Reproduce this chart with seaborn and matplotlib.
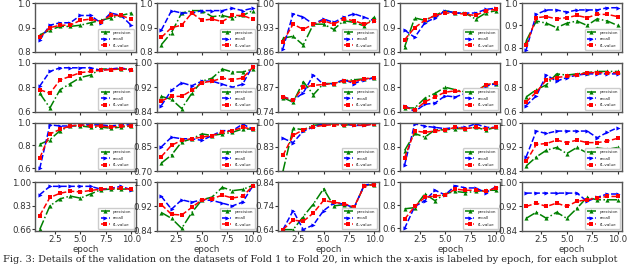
import matplotlib
matplotlib.use('Agg')
import matplotlib.pyplot as plt
import seaborn as sns

epochs = [1, 2, 3, 4, 5, 6, 7, 8, 9, 10]

# one list per panel, row by row (4 rows x 5 columns)
precision = [
    [0.87, 0.89, 0.905, 0.905, 0.91, 0.92, 0.93, 0.94, 0.95, 0.96],
    [0.83, 0.88, 0.96, 0.97, 0.97, 0.945, 0.95, 0.94, 0.95, 0.97],
    [0.90, 0.905, 0.88, 0.94, 0.94, 0.925, 0.95, 0.945, 0.935, 0.96],
    [0.82, 0.94, 0.93, 0.95, 0.97, 0.96, 0.96, 0.935, 0.96, 0.97],
    [0.83, 0.92, 0.91, 0.89, 0.91, 0.92, 0.90, 0.93, 0.92, 0.90],
    [0.75, 0.63, 0.78, 0.83, 0.88, 0.90, 0.95, 0.95, 0.95, 0.95],
    [0.89, 0.88, 0.85, 0.90, 0.94, 0.95, 0.98, 0.97, 0.97, 0.98],
    [0.815, 0.79, 0.90, 0.83, 0.89, 0.89, 0.905, 0.91, 0.915, 0.92],
    [0.63, 0.63, 0.71, 0.75, 0.80, 0.78, 0.76, 0.76, 0.82, 0.83],
    [0.72, 0.78, 0.82, 0.91, 0.90, 0.91, 0.92, 0.93, 0.93, 0.93],
    [0.81, 0.85, 0.93, 0.97, 0.97, 0.96, 0.96, 0.95, 0.96, 0.97],
    [0.75, 0.80, 0.88, 0.90, 0.93, 0.92, 0.93, 0.94, 0.96, 0.96],
    [0.66, 0.96, 0.95, 0.98, 0.99, 0.99, 0.98, 0.99, 0.99, 0.99],
    [0.77, 0.91, 0.88, 0.94, 0.94, 0.95, 0.95, 0.96, 0.94, 0.96],
    [0.857, 0.887, 0.909, 0.918, 0.898, 0.918, 0.90, 0.917, 0.912, 0.918],
    [0.66, 0.83, 0.88, 0.90, 0.885, 0.915, 0.945, 0.95, 0.95, 0.95],
    [0.90, 0.881, 0.848, 0.90, 0.942, 0.951, 0.983, 0.972, 0.976, 0.989],
    [0.64, 0.64, 0.695, 0.748, 0.812, 0.74, 0.745, 0.73, 0.827, 0.83],
    [0.77, 0.78, 0.90, 0.84, 0.90, 0.92, 0.91, 0.92, 0.93, 0.93],
    [0.881, 0.901, 0.881, 0.901, 0.881, 0.914, 0.95, 0.942, 0.942, 0.942],
]
recall = [
    [0.85, 0.91, 0.92, 0.92, 0.95, 0.95, 0.92, 0.96, 0.95, 0.91],
    [0.89, 0.97, 0.96, 0.96, 0.97, 0.97, 0.97, 0.98, 0.97, 0.98],
    [0.87, 0.97, 0.96, 0.94, 0.955, 0.945, 0.96, 0.97, 0.96, 0.95],
    [0.89, 0.86, 0.92, 0.94, 0.97, 0.96, 0.96, 0.96, 0.975, 0.98],
    [0.79, 0.95, 0.97, 0.97, 0.96, 0.97, 0.97, 0.97, 0.98, 0.98],
    [0.81, 0.93, 0.96, 0.96, 0.96, 0.96, 0.94, 0.95, 0.96, 0.94],
    [0.86, 0.91, 0.935, 0.925, 0.94, 0.94, 0.93, 0.92, 0.93, 0.99],
    [0.82, 0.80, 0.84, 0.935, 0.885, 0.89, 0.91, 0.89, 0.91, 0.92],
    [0.65, 0.60, 0.66, 0.67, 0.73, 0.72, 0.75, 0.75, 0.81, 0.83],
    [0.65, 0.73, 0.90, 0.85, 0.88, 0.90, 0.91, 0.91, 0.91, 0.91],
    [0.60, 0.98, 0.97, 0.97, 0.98, 0.98, 0.98, 0.97, 0.98, 0.98],
    [0.85, 0.91, 0.90, 0.90, 0.89, 0.92, 0.95, 0.95, 0.99, 0.96],
    [0.89, 0.86, 0.94, 0.97, 0.99, 0.99, 0.99, 0.98, 0.98, 0.99],
    [0.65, 0.99, 0.97, 0.96, 0.95, 0.96, 0.96, 0.99, 0.96, 0.96],
    [0.887, 0.972, 0.964, 0.972, 0.972, 0.972, 0.972, 0.95, 0.968, 0.983],
    [0.91, 0.97, 0.97, 0.97, 0.97, 0.97, 0.95, 0.955, 0.97, 0.945],
    [0.953, 0.911, 0.942, 0.934, 0.942, 0.94, 0.931, 0.922, 0.934, 0.987],
    [0.64, 0.72, 0.64, 0.66, 0.72, 0.752, 0.748, 0.732, 0.827, 0.834],
    [0.60, 0.79, 0.84, 0.93, 0.89, 0.97, 0.95, 0.95, 0.91, 0.96],
    [0.964, 0.964, 0.964, 0.964, 0.964, 0.964, 0.937, 0.95, 0.961, 0.961],
]
f1_value = [
    [0.86, 0.90, 0.91, 0.91, 0.93, 0.935, 0.925, 0.95, 0.95, 0.935],
    [0.86, 0.90, 0.91, 0.96, 0.93, 0.935, 0.925, 0.95, 0.95, 0.935],
    [0.89, 0.94, 0.925, 0.94, 0.95, 0.94, 0.955, 0.95, 0.94, 0.95],
    [0.85, 0.90, 0.93, 0.95, 0.96, 0.96, 0.955, 0.95, 0.97, 0.975],
    [0.81, 0.935, 0.94, 0.93, 0.935, 0.945, 0.935, 0.95, 0.95, 0.94],
    [0.78, 0.75, 0.86, 0.89, 0.92, 0.93, 0.94, 0.945, 0.95, 0.945],
    [0.875, 0.89, 0.89, 0.91, 0.935, 0.94, 0.95, 0.945, 0.95, 0.985],
    [0.82, 0.80, 0.87, 0.88, 0.885, 0.89, 0.905, 0.90, 0.915, 0.92],
    [0.64, 0.61, 0.68, 0.72, 0.76, 0.77, 0.76, 0.76, 0.82, 0.835],
    [0.68, 0.76, 0.86, 0.88, 0.89, 0.90, 0.92, 0.92, 0.92, 0.92],
    [0.69, 0.90, 0.94, 0.97, 0.98, 0.97, 0.97, 0.96, 0.97, 0.97],
    [0.79, 0.86, 0.89, 0.90, 0.91, 0.92, 0.94, 0.95, 0.97, 0.96],
    [0.77, 0.91, 0.95, 0.97, 0.98, 0.985, 0.985, 0.985, 0.98, 0.99],
    [0.71, 0.93, 0.92, 0.93, 0.94, 0.96, 0.95, 0.96, 0.95, 0.96],
    [0.872, 0.928, 0.931, 0.942, 0.934, 0.942, 0.934, 0.934, 0.939, 0.948],
    [0.76, 0.89, 0.92, 0.935, 0.93, 0.94, 0.95, 0.955, 0.955, 0.95],
    [0.926, 0.894, 0.892, 0.917, 0.942, 0.946, 0.957, 0.948, 0.953, 0.987],
    [0.64, 0.68, 0.675, 0.71, 0.763, 0.755, 0.75, 0.735, 0.823, 0.83],
    [0.68, 0.79, 0.87, 0.88, 0.89, 0.94, 0.93, 0.93, 0.92, 0.95],
    [0.92, 0.931, 0.92, 0.931, 0.92, 0.937, 0.942, 0.948, 0.953, 0.953],
]

# y tick values per panel (low, mid, high)
yticks = [
    [0.8, 0.9, 1.0], [0.8, 0.9, 1.0], [0.86, 0.93, 1.00], [0.8, 0.9, 1.0], [0.8, 0.9, 1.0],
    [0.6, 0.8, 1.0], [0.84, 0.92, 1.00], [0.74, 0.87, 1.00], [0.6, 0.8, 1.0], [0.6, 0.8, 1.0],
    [0.6, 0.8, 1.0], [0.70, 0.85, 1.00], [0.66, 0.83, 1.00], [0.6, 0.8, 1.0], [0.84, 0.92, 1.00],
    [0.66, 0.83, 1.00], [0.84, 0.92, 1.00], [0.64, 0.74, 0.84], [0.6, 0.8, 1.0], [0.84, 0.92, 1.00],
]
ytick_labels = [
    ['0.8', '0.9', '1.0'], ['0.8', '0.9', '1.0'], ['0.86', '0.93', '1.00'], ['0.8', '0.9', '1.0'], ['0.8', '0.9', '1.0'],
    ['0.6', '0.8', '1.0'], ['0.84', '0.92', '1.00'], ['0.74', '0.87', '1.00'], ['0.6', '0.8', '1.0'], ['0.6', '0.8', '1.0'],
    ['0.6', '0.8', '1.0'], ['0.70', '0.85', '1.00'], ['0.66', '0.83', '1.00'], ['0.6', '0.8', '1.0'], ['0.84', '0.92', '1.00'],
    ['0.66', '0.83', '1.00'], ['0.84', '0.92', '1.00'], ['0.64', '0.74', '0.84'], ['0.6', '0.8', '1.0'], ['0.84', '0.92', '1.00'],
]
# lower y limit where the axis goes a little below the first tick
ylow = [0.8, 0.8, 0.86, 0.8, 0.78,
        0.6, 0.84, 0.74, 0.6, 0.6,
        0.575, 0.70, 0.66, 0.6, 0.84,
        0.65, 0.84, 0.635, 0.58, 0.84]

xticks = [2.5, 5.0, 7.5, 10.0]
caption = ("Fig. 3: Details of the validation on the datasets of Fold 1 to Fold 20, in which the "
           "x-axis is labeled by epoch, for each subplot")

sns.set_style('ticks')
plt.rcParams['font.family'] = ['DejaVu Sans']

fig, axes = plt.subplots(4, 5, figsize=(6.4, 2.65), dpi=100, sharex=True)
fig.subplots_adjust(left=0.055, right=0.972, top=0.9875, bottom=0.129, wspace=0.21, hspace=0.225)

for i, ax in enumerate(axes.flat):
    sns.lineplot(x=epochs, y=precision[i], ax=ax, color='g', linestyle='-.', marker='^',
                 markersize=3, markeredgewidth=0, linewidth=1.1, label='precision')
    sns.lineplot(x=epochs, y=recall[i], ax=ax, color='b', linestyle='--', marker='>',
                 markersize=3, markeredgewidth=0, linewidth=1.1, label='recall')
    sns.lineplot(x=epochs, y=f1_value[i], ax=ax, color='r', linestyle='--', marker='s',
                 markersize=2.8, markeredgewidth=0, linewidth=1.1, label='f1-value')
    ax.set_yticks(yticks[i])
    ax.set_yticklabels(ytick_labels[i])
    ax.set_ylim(ylow[i], yticks[i][2])
    ax.set_xticks(xticks)
    ax.tick_params(labelsize=6.2, length=2, width=0.8, pad=1, colors='#333333')
    for s in ax.spines.values():
        s.set_color('#555555')
        s.set_linewidth(1.0)
    ax.legend(loc='lower right', fontsize=3, handlelength=2.2, borderpad=0.5,
              labelspacing=0.6, framealpha=1, edgecolor='#cccccc')
    if i >= 15:
        ax.set_xlabel('epoch', fontsize=6.2, labelpad=1, color='#333333')
    else:
        ax.set_xlabel('')

fig.text(0.004, 0.003, caption, fontsize=7, family='DejaVu Serif', ha='left', va='bottom')

fig.savefig('out.png', dpi=100)
